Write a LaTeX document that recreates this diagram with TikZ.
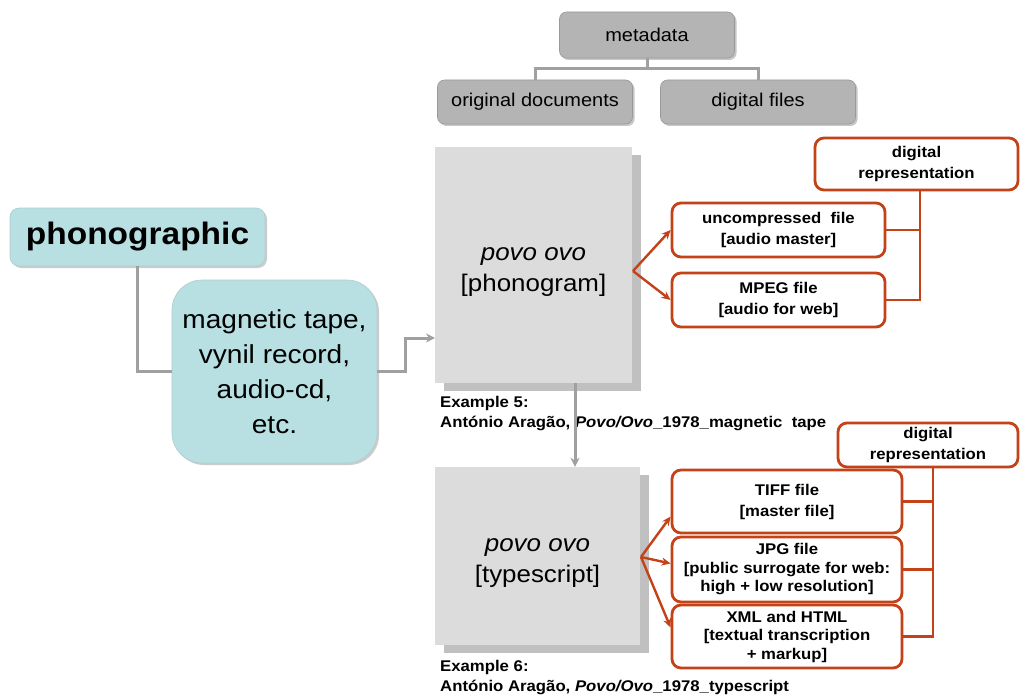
\documentclass[tikz,border=0pt]{standalone}
\usepackage{fontspec}
\setmainfont{Liberation Sans}[FakeStretch=1.08]
\usetikzlibrary{arrows.meta,shadows,calc}
\definecolor{obox}{RGB}{196,66,24}
\definecolor{teal}{RGB}{184,224,226}
\definecolor{gbox}{RGB}{180,180,180}
\definecolor{bigbox}{RGB}{220,220,220}
\definecolor{bigshadow}{RGB}{192,192,192}
\definecolor{gconn}{RGB}{160,160,160}
\tikzset{
  graybox/.style={draw=gray!80, line width=0.6pt, fill=gbox, rounded corners=7pt, font=\fontsize{18.5}{20}\selectfont,
    general shadow={shadow xshift=2pt, shadow yshift=-2pt, fill=gray!45}},
  bigpaper/.style={fill=bigbox, general shadow={shadow xshift=9pt, shadow yshift=-8pt, fill=bigshadow}},
  bigtext/.style={align=center, font=\fontsize{24}{31}\selectfont},
  tealbox/.style={fill=teal, draw=teal!80!gray, line width=0.6pt, align=center,
    general shadow={shadow xshift=2pt, shadow yshift=-2pt, fill=gray!40}},
  orbox/.style={draw=obox, line width=2.8pt, fill=white, rounded corners=9pt, align=center,
    font=\bfseries\fontsize{15.5}{21}\selectfont},
  oline/.style={draw=obox, line width=2.8pt},
  oarrow/.style={draw=obox, line width=2.4pt, -{Stealth[length=9pt,width=8pt]}},
  gline/.style={draw=gconn, line width=3.5pt},
  garrow/.style={draw=gconn, line width=3pt, -{Stealth[length=9pt,width=9pt]}},
  exlabel/.style={anchor=north west, align=left, inner sep=0pt, font=\bfseries\fontsize{15.5}{20}\selectfont}
}
\begin{document}
\begin{tikzpicture}[x=1pt,y=-1pt]
\useasboundingbox[fill=white] (0,0) rectangle (1020,698);

% metadata tree
\node[graybox, minimum width=175pt, minimum height=46pt] (meta) at (647,35) {metadata};
\node[graybox, minimum width=195pt, minimum height=44pt] (orig) at (535,102) {original documents};
\node[graybox, minimum width=195pt, minimum height=44pt] (dig) at (758,102) {digital files};
\draw[draw=gconn, line width=3pt] (meta.south) -- ++(0,10) -| (orig.north);
\draw[draw=gconn, line width=3pt] (meta.south) -- ++(0,10) -| (dig.north);

% big paper boxes
\node[bigpaper, minimum width=197pt, minimum height=236pt] (phono) at (533.5,265) {};
\node[bigtext] (phonot) at ([yshift=-7pt]phono.center) {\textit{povo ovo}\\{[phonogram]}};
\node[bigpaper, minimum width=205pt, minimum height=178pt] (type) at (537.5,556) {};
\node[bigtext] (typet) at ([yshift=-7pt]type.center) {\textit{povo ovo}\\{[typescript]}};

% examples
\node[exlabel] (ex5) at (440,396) {Example 5:\\António Aragão, \textit{Povo/Ovo}\_1978\_magnetic~ tape};
\node[exlabel] (ex6) at (440,660) {Example 6:\\António Aragão, \textit{Povo/Ovo}\_1978\_typescript};

% phonographic
\node[tealbox, rounded corners=9pt, minimum width=255pt, minimum height=58pt,
  font=\bfseries\fontsize{31}{36}\selectfont] (phg) at (137.5,237) {phonographic};
\node[tealbox, rounded corners=30pt, minimum width=205pt, minimum height=183pt,
  font=\fontsize{26}{35}\selectfont] (mag) at (274.5,371.5) {magnetic tape,\\vynil record,\\audio-cd,\\etc.};
\coordinate (pin) at (435,338);
\coordinate (pout) at ([xshift=41.5pt]phono.south);
\draw[gline] (phg.south) |- (mag.west);
\draw[garrow] (mag.east) -- ++(28,0) |- (pin);
\draw[garrow] (pout) -- (pout |- type.north);

% top orange group
\node[orbox, minimum width=203pt, minimum height=52pt] (drep1) at (916.5,164) {digital\\representation};
\node[orbox, minimum width=213pt, minimum height=54pt] (unc) at (778.5,230) {uncompressed~ file\\{[audio master]}};
\node[orbox, minimum width=213pt, minimum height=54pt] (mpeg) at (778.5,300) {MPEG file\\{[audio for web]}};
\coordinate (v1) at ([xshift=3.5pt]drep1.south);
\draw[oline] (v1) |- (mpeg.east);
\draw[oline] (unc.east) -- (unc.east -| v1);
\coordinate (s1) at (633,271);
\draw[oarrow] (s1) -- (unc.west);
\draw[oarrow] (s1) -- (mpeg.west);

% bottom orange group
\node[orbox, minimum width=180pt, minimum height=44pt, inner sep=1pt] (drep2) at (928,445) {digital\\representation};
\node[orbox, minimum width=230pt, minimum height=63pt] (tiff) at (787,501.5) {TIFF file\\{[master file]}};
\node[orbox, minimum width=230pt, minimum height=65pt, inner sep=1pt, font=\bfseries\fontsize{15.5}{18.5}\selectfont] (jpg) at (787,569.5) {JPG file\\{[public surrogate for web:}\\high + low resolution]};
\node[orbox, minimum width=230pt, minimum height=63pt, inner sep=1pt, font=\bfseries\fontsize{15.5}{18.5}\selectfont] (xml) at (787,636.5) {XML and HTML\\{[textual transcription}\\+ markup]};
\coordinate (v2) at ([xshift=5pt]drep2.south);
\draw[oline] (v2) |- (xml.east);
\draw[oline] (tiff.east) -- (tiff.east -| v2);
\draw[oline] (jpg.east) -- (jpg.east -| v2);
\coordinate (s2) at (641,557);
\draw[oarrow] (s2) -- ([yshift=-15pt]tiff.west);
\draw[oarrow] (s2) -- ([yshift=6pt]jpg.west);
\draw[oarrow] (s2) -- ([yshift=9pt]xml.west);
\end{tikzpicture}
\end{document}
